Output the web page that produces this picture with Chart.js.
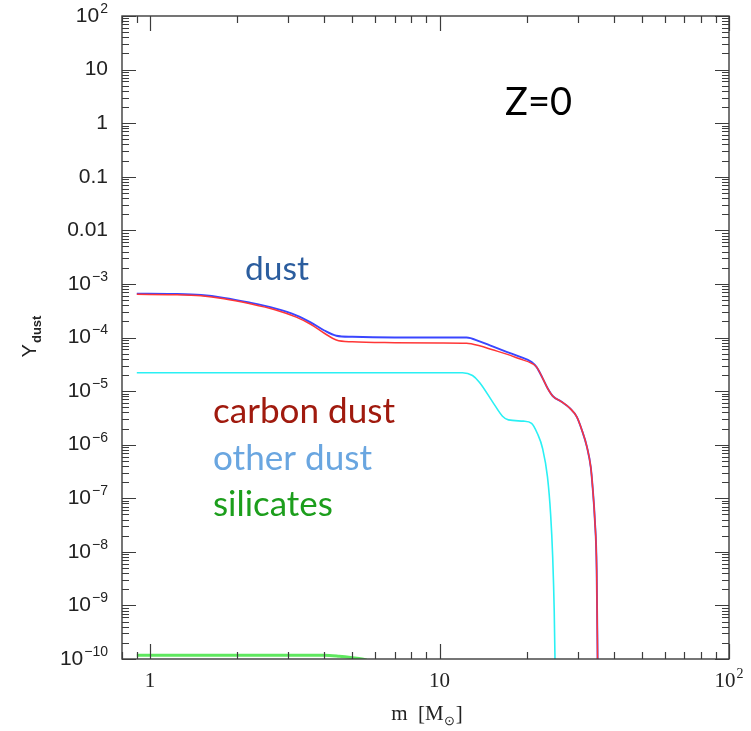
<!DOCTYPE html>
<html>
<head>
<meta charset="utf-8">
<script src="https://cdn.jsdelivr.net/npm/chart.js@4.4.0/dist/chart.umd.min.js"></script>
<style>
  html, body { margin: 0; padding: 0; background: #fff; }
  #wrap { width: 751px; height: 731px; }
</style>
</head>
<body>
<div id="wrap"><canvas id="chart" width="751" height="731"></canvas></div>
<script>
// Dust yields vs. initial stellar mass, Z = 0
const dustMass = [0.9, 1.2, 1.5, 1.8, 2.2, 2.7, 3.2, 3.6, 4.0, 4.4, 5.0, 7.0, 10, 12.4, 13.75, 15.25, 17.05, 18.9, 20.8,
  21.65, 22.7, 23.6, 24.6, 26.4, 28.2, 29.8, 31.0, 32.3, 33.3, 33.8, 34.4, 34.9, 35.2];
const dustYield = [6.6e-4, 6.5e-4, 6.2e-4, 5.5e-4, 4.5e-4, 3.5e-4, 2.6e-4, 1.9e-4, 1.35e-4, 1.08e-4, 1.03e-4, 1.0e-4, 1.0e-4, 1.0e-4, 8.5e-5, 6.8e-5, 5.4e-5, 4.4e-5, 3.5e-5,
  2.8e-5, 1.75e-5, 1.14e-5, 8.1e-6, 6.3e-6, 4.8e-6, 3.3e-6, 1.9e-6, 9.1e-7, 3.8e-7, 1.6e-7, 3.9e-8, 4.6e-9, 5e-11];

const carbonMass = [0.9, 1.2, 1.5, 1.8, 2.2, 2.7, 3.2, 3.6, 4.0, 4.4, 5.0, 7.0, 10, 12.4, 13.75, 15.25, 17.05, 18.9, 20.8,
  21.65, 22.7, 23.6, 24.6, 26.4, 28.2, 29.8, 31.0, 32.3, 33.3, 33.8, 34.4, 34.9, 35.2];
const carbonYield = [6.4e-4, 6.3e-4, 6.0e-4, 5.3e-4, 4.3e-4, 3.3e-4, 2.4e-4, 1.75e-4, 1.2e-4, 9.0e-5, 8.3e-5, 8.0e-5, 7.9e-5, 7.8e-5, 7.0e-5, 5.9e-5, 4.9e-5, 4.0e-5, 3.3e-5,
  2.8e-5, 1.75e-5, 1.14e-5, 8.1e-6, 6.3e-6, 4.8e-6, 3.3e-6, 1.9e-6, 9.1e-7, 3.8e-7, 1.6e-7, 3.9e-8, 4.6e-9, 5e-11];

const otherMass = [0.9, 6.0, 12.0, 13.0, 13.75, 15.25, 16.5, 17.3, 19.5, 20.8, 21.8, 22.7, 23.6, 24.2, 24.6, 24.9, 25.1];
const otherYield = [2.2e-5, 2.2e-5, 2.2e-5, 1.95e-5, 1.45e-5, 6.3e-6, 3.4e-6, 2.9e-6, 2.75e-6, 2.5e-6, 1.6e-6, 8.5e-7, 2.5e-7, 5e-8, 8e-9, 8e-10, 5e-11];

const silicateMass = [0.9, 4.0, 4.5, 5.0, 5.4, 5.6];
const silicateYield = [1.18e-10, 1.18e-10, 1.13e-10, 1.06e-10, 1.0e-10, 9.5e-11];

const xTicks = [1, 10, 100];
const yTicks = [1e-10, 1e-9, 1e-8, 1e-7, 1e-6, 1e-5, 1e-4, 1e-3, 0.01, 0.1, 1, 10, 100];

const xRange = [0.8, 100];
const yRange = [1e-10, 100];

// legend labels written straight onto the plot
const labels = [
  { text: 'dust', color: '#2b5d9e', x: 245, y: 280, w: 64 },
  { text: 'carbon dust', color: '#a01a0e', x: 213, y: 423, w: 182 },
  { text: 'other dust', color: '#6aa6e0', x: 213, y: 470, w: 159 },
  { text: 'silicates', color: '#1c9e1c', x: 213, y: 516, w: 120 },
  { text: 'Z=0', color: '#000', x: 505, y: 115, w: 67 }
];

const series = [
  { mass: carbonMass, yield: carbonYield, color: '#ff3636', width: 1.5 },
  { mass: dustMass, yield: dustYield, color: '#3a46ff', width: 1.9 },
  { mass: otherMass, yield: otherYield, color: '#2af0f4', width: 1.6 },
  { mass: silicateMass, yield: silicateYield, color: '#5fe85f', width: 3 }
];

function toPoints(xs, ys) {
  return xs.map((x, i) => ({ x: x, y: ys[i] }));
}

function yTickText(v) {
  const e = Math.round(Math.log10(v));
  if (e >= -2 && e <= 1) return [String(v), ''];
  return ['10', e < 0 ? '\u2212' + (-e) : String(e)];
}

function xTickText(v) {
  const e = Math.round(Math.log10(v));
  if (e <= 1) return [String(v), ''];
  return ['10', String(e)];
}

// base number with a raised exponent
function drawPow(ctx, parts, x, y, align, family, size) {
  const baseFont = size + 'px ' + family;
  const expFont = Math.round(size * 0.68) + 'px ' + family;
  ctx.font = baseFont;
  const wb = ctx.measureText(parts[0]).width;
  ctx.font = expFont;
  const we = parts[1] ? ctx.measureText(parts[1]).width + 1 : 0;
  let left = x;
  if (align === 'right') left = x - wb - we;
  if (align === 'center') left = x - (wb + we) / 2;
  ctx.textAlign = 'left';
  ctx.textBaseline = 'middle';
  ctx.font = baseFont;
  ctx.fillText(parts[0], left, y);
  if (parts[1]) {
    ctx.font = expFont;
    ctx.fillText(parts[1], left + wb + 1, y - size * 0.33);
  }
}

function fitFont(ctx, text, family, width) {
  ctx.font = '100px ' + family;
  return 100 * width / ctx.measureText(text).width;
}

const axisFrame = {
  id: 'axisFrame',
  afterDatasetsDraw(chart) {
    const { ctx, chartArea: a, scales: { x, y } } = chart;
    ctx.save();
    ctx.strokeStyle = '#3c3c3c';
    ctx.fillStyle = '#222';
    ctx.lineWidth = 1.4;
    ctx.strokeRect(a.left, a.top, a.right - a.left, a.bottom - a.top);

    // inward ticks on all four sides
    ctx.lineWidth = 1.2;
    ctx.beginPath();
    for (let d = -1; d <= 2; d++) {
      for (let k = 1; k <= 9; k++) {
        const v = k * Math.pow(10, d);
        if (v < xRange[0] || v > xRange[1]) continue;
        const px = Math.round(x.getPixelForValue(v)) + 0.5;
        const len = k === 1 ? 15 : 7;
        ctx.moveTo(px, a.bottom); ctx.lineTo(px, a.bottom - len);
        ctx.moveTo(px, a.top); ctx.lineTo(px, a.top + len);
      }
    }
    for (let d = -10; d <= 2; d++) {
      for (let k = 1; k <= 9; k++) {
        const v = k * Math.pow(10, d);
        if (v < yRange[0] * 0.999 || v > yRange[1] * 1.001) continue;
        const py = Math.round(y.getPixelForValue(v)) + 0.5;
        const len = k === 1 ? 14 : 7;
        ctx.moveTo(a.left, py); ctx.lineTo(a.left + len, py);
        ctx.moveTo(a.right, py); ctx.lineTo(a.right - len, py);
      }
    }
    ctx.stroke();

    // tick labels
    yTicks.forEach(v => {
      drawPow(ctx, yTickText(v), a.left - 14, y.getPixelForValue(v), 'right', '"Liberation Sans", Arial, sans-serif', 21);
    });
    xTicks.forEach(v => {
      drawPow(ctx, xTickText(v), x.getPixelForValue(v), a.bottom + 22, 'center', '"Liberation Serif", serif', 21);
    });

    // x axis title: m [M_sun]
    const serif = '"Liberation Serif", serif';
    ctx.textBaseline = 'alphabetic';
    ctx.textAlign = 'left';
    ctx.font = '21px ' + serif;
    const t1 = 'm  [M', t3 = ']';
    const w1 = ctx.measureText(t1).width;
    ctx.font = '13px ' + serif;
    const t2 = '\u2299';
    const w2 = ctx.measureText(t2).width;
    ctx.font = '21px ' + serif;
    const w3 = ctx.measureText(t3).width;
    let tx = (a.left + a.right) / 2 + 1 - (w1 + w2 + w3) / 2;
    const ty = 720;
    ctx.fillText(t1, tx, ty);
    ctx.font = '13px ' + serif;
    ctx.fillText(t2, tx + w1, ty + 5);
    ctx.font = '21px ' + serif;
    ctx.fillText(t3, tx + w1 + w2 + 1, ty);

    // y axis title: Y_dust
    ctx.save();
    ctx.translate(36, 337);
    ctx.rotate(-Math.PI / 2);
    ctx.font = '20px "Liberation Sans", Arial, sans-serif';
    const wy = ctx.measureText('Y').width;
    ctx.font = 'bold 13px "Liberation Sans", Arial, sans-serif';
    const wd = ctx.measureText('dust').width;
    const sx = -(wy + wd) / 2;
    ctx.font = '20px "Liberation Sans", Arial, sans-serif';
    ctx.fillText('Y', sx, 0);
    ctx.font = 'bold 13px "Liberation Sans", Arial, sans-serif';
    ctx.fillText('dust', sx + wy + 1, 5);
    ctx.restore();

    // curve labels
    labels.forEach(l => {
      const size = fitFont(ctx, l.text, 'Lato, "Open Sans", sans-serif', l.w);
      ctx.font = size.toFixed(1) + 'px Lato, "Open Sans", sans-serif';
      ctx.fillStyle = l.color;
      ctx.fillText(l.text, l.x, l.y);
    });
    ctx.restore();
  }
};

new Chart(document.getElementById('chart'), {
  type: 'line',
  data: {
    datasets: series.map(s => ({
      data: toPoints(s.mass, s.yield),
      borderColor: s.color,
      borderWidth: s.width,
      pointRadius: 0,
      fill: false,
      cubicInterpolationMode: 'monotone'
    }))
  },
  options: {
    responsive: false,
    animation: false,
    layout: { padding: { left: 122, right: 22, top: 16, bottom: 72 } },
    plugins: { legend: { display: false }, tooltip: { enabled: false } },
    scales: {
      x: { type: 'logarithmic', min: xRange[0], max: xRange[1], display: false },
      y: { type: 'logarithmic', min: yRange[0], max: yRange[1], display: false }
    }
  },
  plugins: [axisFrame]
});
</script>
</body>
</html>
